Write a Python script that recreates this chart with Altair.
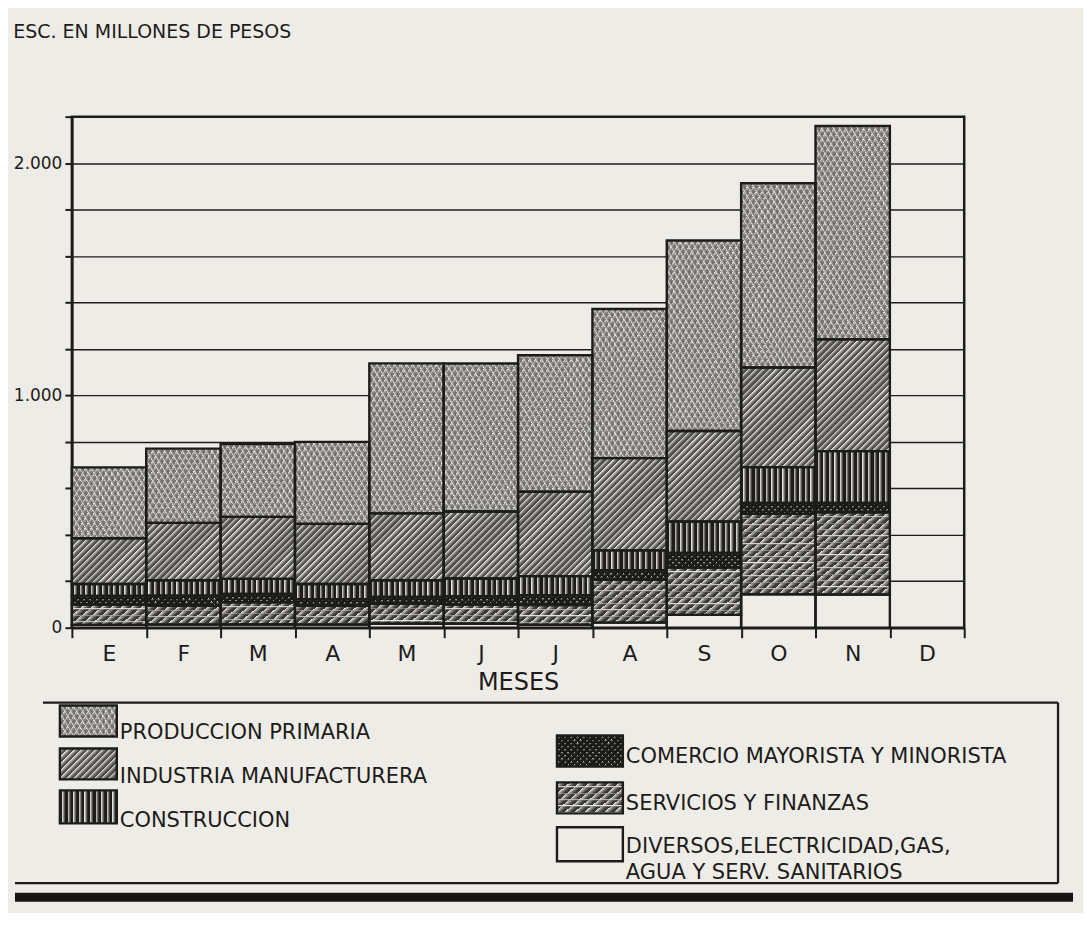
import math
import altair as alt
import pandas as pd

# ---------------------------------------------------------------- data
MESES = ["Ene", "Feb", "Mar", "Abr", "May", "Jun", "Jul", "Ago", "Sep", "Oct", "Nov", "Dic"]

# millions of escudos (December has no bar)
produccion_primaria = [305, 320, 313, 353, 646, 637, 588, 642, 820, 793, 918]
industria_manufacturera = [197, 247, 267, 259, 288, 288, 363, 397, 390, 429, 482]
construccion = [51, 66, 65, 65, 72, 76, 82, 86, 135, 154, 223]
comercio = [37, 44, 36, 29, 29, 36, 43, 41, 63, 47, 40]
servicios_finanzas = [88, 80, 95, 80, 86, 83, 85, 184, 204, 346, 354]
diversos = [12, 14, 14, 14, 17, 17, 12, 22, 55, 144, 143]

CODIGOS = ["PP", "IM", "CO", "CM", "SV", "DV"]
NOMBRES = [
    "PRODUCCION PRIMARIA",
    "INDUSTRIA MANUFACTURERA",
    "CONSTRUCCION",
    "COMERCIO MAYORISTA Y MINORISTA",
    "SERVICIOS Y FINANZAS",
    "DIVERSOS,ELECTRICIDAD,GAS,\nAGUA Y SERV. SANITARIOS",
]
Y_TICKS = list(range(0, 2201, 200))
TITULO = "ESC. EN MILLONES DE PESOS"
TITULO_X = "MESES"

# ---------------------------------------------------------------- style / layout
FUENTE = "DejaVu Sans"
TINTA = "#1d1c1a"
TRAMA = "#3a3834"
RAYA = "#4f4d49"
PUNTO = "#7e7b76"
PAPEL = "#eeece6"
CLARO = "rgba(0,0,0,0)"
W, H, YMAX = 894, 512, 2200
BANDA = W / len(MESES)


def normal(grados):
    """Unit normal of stripes whose lines rise to the right at `grados` degrees."""
    r = math.radians(grados)
    return (math.sin(r), math.cos(r))


N_SLASH = normal(45)
N_BACK = normal(-45)
N_VERT = (1.0, 0.0)
N_HORZ = (0.0, 1.0)
N_DOT_A = (math.cos(math.radians(31)), math.sin(math.radians(31)))
N_DOT_B = (math.cos(math.radians(31)), -math.sin(math.radians(31)))

PATRONES = {
    "PP": [(N_DOT_A, 5.1, 1.4, PUNTO, CLARO), (N_DOT_B, 5.1, 1.4, CLARO, PAPEL)],
    "IM": [(N_SLASH, 4.9, 1.2, RAYA, CLARO)],
    "CO": [(N_VERT, 5.6, 2.2, TINTA, CLARO)],
    "CM": [(N_SLASH, 4.4, 1.8, TINTA, CLARO), (N_BACK, 4.4, 1.8, TINTA, CLARO)],
    "SV": [(normal(40), 6.4, 1.9, TRAMA, CLARO), (N_HORZ, 6.4, 3.9, CLARO, PAPEL)],
    "DV": [],
}


def franjas(nrm, w, h, paso, grosor, color, fondo):
    """Striped linear gradient whose stripes keep a fixed pixel spacing/angle."""
    dx, dy = nrm
    largo = abs(dx) * w + abs(dy) * h
    nx, ny = dx * w, dy * h
    k = largo / (nx * nx + ny * ny)
    x1 = 0.0 if dx >= 0 else 1.0
    y1 = 0.0 if dy >= 0 else 1.0
    paradas = []
    j = 0
    while j * paso <= largo:
        a = min(1.0, j * paso / largo)
        b = min(1.0, (j * paso + grosor) / largo)
        paradas += [{"offset": round(a, 5), "color": color},
                    {"offset": round(b, 5), "color": color},
                    {"offset": round(b, 5), "color": fondo}]
        j += 1
    paradas.append({"offset": 1.0, "color": fondo})
    return {"gradient": "linear", "x1": x1, "y1": y1,
            "x2": round(x1 + k * nx, 6), "y2": round(y1 + k * ny, 6), "stops": paradas}


# ---------------------------------------------------------------- main table
series = {"PP": produccion_primaria, "IM": industria_manufacturera, "CO": construccion,
          "CM": comercio, "SV": servicios_finanzas, "DV": diversos}
ORDEN_PILA = ["DV", "SV", "CM", "CO", "IM", "PP"]
filas = []
for i, mes in enumerate(MESES[:len(produccion_primaria)]):
    base = 0
    for cod in ORDEN_PILA:
        v = series[cod][i]
        filas.append({"id": f"{mes}-{cod}", "mes": mes, "sector": cod, "valor": v,
                      "y0": base, "y1": base + v})
        base += v
df = pd.DataFrame(filas)

ax_x = alt.Axis(labelExpr="substring(datum.label, 0, 1)", labelAngle=0, labelFontSize=22,
                labelFont=FUENTE, labelColor=TINTA, labelPadding=6, tickBand="extent",
                tickSize=10, tickWidth=2, tickColor=TINTA, domainColor=TINTA, domainWidth=2.5,
                grid=False, titleFontSize=24, titleFont=FUENTE, titleFontWeight="normal",
                titleColor=TINTA, titlePadding=6)
ax_y = alt.Axis(values=Y_TICKS,
                labelExpr="datum.value == 0 ? '0' : (datum.value % 1000 == 0 ? "
                          "format(datum.value / 1000, 'd') + '.000' : '')",
                labelFontSize=17, labelFont=FUENTE, labelColor=TINTA, labelPadding=3,
                tickSize=7, tickWidth=2, tickColor=TINTA, domainColor=TINTA, domainWidth=2.5,
                grid=True, gridColor=TINTA, gridWidth=1.4, labelOverlap=False)

x_enc = alt.X("mes:N", scale=alt.Scale(domain=MESES, paddingInner=0, paddingOuter=0),
              axis=ax_x, title=TITULO_X)
y_enc = alt.Y("y0:Q", scale=alt.Scale(domain=[0, YMAX], nice=False, zero=True),
              axis=ax_y, title="")
y2_enc = alt.Y2("y1:Q")

capas = [alt.Chart().mark_bar(fill=PAPEL).encode(x=x_enc, y=y_enc, y2=y2_enc)]
for fila in filas:
    alto = fila["valor"] * H / YMAX
    for (nrm, paso, grosor, col, fon) in PATRONES[fila["sector"]]:
        grad = franjas(nrm, BANDA, alto, paso, grosor, col, fon)
        capas.append(alt.Chart().transform_filter(alt.datum.id == fila["id"])
                     .mark_bar(fill=grad).encode(x=x_enc, y=y_enc, y2=y2_enc))
capas.append(alt.Chart().mark_bar(filled=False, stroke=TINTA, strokeWidth=2.4)
             .encode(x=x_enc, y=y_enc, y2=y2_enc))

principal = alt.layer(*capas, data=df).properties(
    width=W, height=H,
    title=alt.TitleParams(TITULO, anchor="start", frame="bounds", fontSize=19, font=FUENTE,
                          fontWeight="normal", color=TINTA, offset=66),
    view=alt.ViewBackground(stroke=TINTA, strokeWidth=2.5),
)

# ---------------------------------------------------------------- custom legend
GX, GY = 69, 697          # page position of the legend frame origin
LW, LH = 995, 193
COL_X = [57, 555]
SW_W = [57, 66]
FILAS_Y = [[706, 749, 791], [736, 783, 828]]
SW_H = [[31, 31, 33], [31, 31, 34]]
TEXTO_DY = [[12, 13, 14], [6, 6, 3]]

ley = []
for k, (cod, nom) in enumerate(zip(CODIGOS, NOMBRES)):
    c, r = k // 3, k % 3
    x0 = COL_X[c]
    y0 = FILAS_Y[c][r]
    ley.append({"id": cod, "nombre": nom, "x0": x0, "x1": x0 + SW_W[c], "y0": y0,
                "y1": y0 + SW_H[c][r], "tx": x0 + SW_W[c] + 3,
                "ty": y0 + SW_H[c][r] / 2 + TEXTO_DY[c][r]})
dley = pd.DataFrame(ley)

lx = alt.Scale(domain=[GX, GX + LW], nice=False, zero=False)
ly = alt.Scale(domain=[GY, GY + LH], nice=False, zero=False, reverse=True)
enc_sw = dict(x=alt.X("x0:Q", scale=lx, axis=None), x2="x1:Q",
              y=alt.Y("y0:Q", scale=ly, axis=None), y2="y1:Q")

capas_ley = [alt.Chart().mark_rect(fill=PAPEL).encode(**enc_sw)]
for it in ley:
    w = it["x1"] - it["x0"]
    h = it["y1"] - it["y0"]
    for (nrm, paso, grosor, col, fon) in PATRONES[it["id"]]:
        capas_ley.append(alt.Chart().transform_filter(alt.datum.id == it["id"])
                         .mark_rect(fill=franjas(nrm, w, h, paso, grosor, col, fon))
                         .encode(**enc_sw))
capas_ley.append(alt.Chart().mark_rect(filled=False, stroke=TINTA, strokeWidth=2.4)
                 .encode(**enc_sw))
capas_ley.append(alt.Chart().mark_text(align="left", baseline="middle", fontSize=21,
                                       font=FUENTE, color=TINTA, lineBreak="\n",
                                       lineHeight=26)
                 .encode(x=alt.X("tx:Q", scale=lx, axis=None),
                         y=alt.Y("ty:Q", scale=ly, axis=None), text="nombre:N"))

# frame of the legend: top, right and bottom edges, then the heavy outer rule
marco = pd.DataFrame({"xa": [40, 1057, 12], "xb": [1057, 1057, 1057],
                      "ya": [703, 703, 884], "yb": [703, 884, 884]})
capas_ley.append(alt.Chart(marco).mark_rule(color=TINTA, strokeWidth=2.3).encode(
    x=alt.X("xa:Q", scale=lx, axis=None), x2="xb:Q",
    y=alt.Y("ya:Q", scale=ly, axis=None), y2="yb:Q"))
borde = pd.DataFrame({"xa": [12], "xb": [1072], "ya": [898], "yb": [898]})
capas_ley.append(alt.Chart(borde).mark_rule(color="#151412", strokeWidth=9).encode(
    x=alt.X("xa:Q", scale=lx, axis=None), x2="xb:Q",
    y=alt.Y("ya:Q", scale=ly, axis=None), y2="yb:Q"))

leyenda = alt.layer(*capas_ley, data=dley).properties(
    width=LW, height=LH, view=alt.ViewBackground(strokeWidth=0))

chart = alt.vconcat(principal, leyenda, spacing=0).properties(
    padding={"left": 2, "top": 12, "right": 5, "bottom": 10}
).configure(background=PAPEL).configure_view(strokeWidth=0)

chart.save("out.html", embed_options={"renderer": "svg", "actions": False})
